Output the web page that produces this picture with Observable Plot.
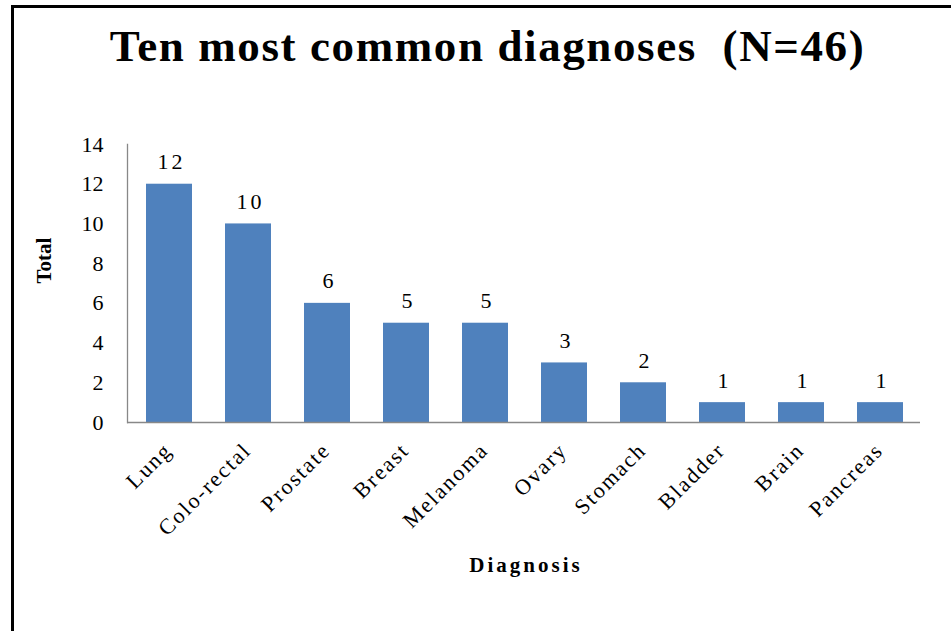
<!DOCTYPE html>
<html>
<head>
<meta charset="utf-8">
<script src="https://cdn.jsdelivr.net/npm/d3@7"></script>
<script src="https://cdn.jsdelivr.net/npm/@observablehq/plot@0.6"></script>
<style>
  html, body { margin: 0; padding: 0; background: #fff; }
  #wrap { position: relative; width: 951px; height: 631px; overflow: hidden; background: #fff; }
  #border { position: absolute; left: 11px; top: 5px; width: 960px; height: 700px;
            border-left: 3px solid #000; border-top: 3px solid #000; box-sizing: border-box; }
  #title { position: absolute; left: 0; top: 20px; width: 975px; text-align: center;
           font-family: "Liberation Serif", "Times New Roman", serif; font-weight: bold;
           font-size: 45px; letter-spacing: 1.6px; color: #000; white-space: pre; }
  #chart { position: absolute; left: 0; top: 100px; }
  .vlab text { letter-spacing: 3px; }
  .xlab { letter-spacing: 3px; }
</style>
</head>
<body>
<div id="wrap">
  <div id="border"></div>
  <div id="title">Ten most common diagnoses  (N=46)</div>
  <div id="chart"></div>
</div>
<script>
const categories = ["Lung", "Colo-rectal", "Prostate", "Breast", "Melanoma", "Ovary", "Stomach", "Bladder", "Brain", "Pancreas"];
const totals = [12, 10, 6, 5, 5, 3, 2, 1, 1, 1];
const yTicks = [0, 2, 4, 6, 8, 10, 12, 14];

const data = categories.map((c, i) => ({diagnosis: c, total: totals[i]}));
const font = "Liberation Serif, Times New Roman, serif";

const plot = Plot.plot({
  width: 951,
  height: 531,
  marginLeft: 127,
  marginRight: 31,
  marginTop: 44,
  marginBottom: 209,
  style: {fontFamily: font, fontSize: "22px", color: "#000", background: "transparent"},
  x: {domain: categories, paddingInner: 0.42, paddingOuter: 0.21, label: null},
  y: {domain: [0, 14], label: null},
  marks: [
    Plot.barY(data, {x: "diagnosis", y: "total", fill: "#4F81BD", dx: 1}),
    Plot.text(data, {x: "diagnosis", y: "total", text: d => String(d.total), dy: -22, dx: 3, fontSize: 22, fill: "#000", className: "vlab"}),
    Plot.ruleY([0], {stroke: "#888", strokeWidth: 1.3}),
    Plot.frame({anchor: "left", stroke: "#888", strokeWidth: 1.3}),
    Plot.axisY({ticks: yTicks, tickSize: 0, tickPadding: 24, label: null, fontSize: 22}),
    Plot.axisX({tickSize: 0, tickRotate: -45, tickPadding: 24, label: null, fontSize: 22, dx: 0}),
    Plot.text(["Total"], {frameAnchor: "left", dx: -83, rotate: -90, fontWeight: "bold", fontSize: 21}),
    Plot.text(["Diagnosis"], {frameAnchor: "bottom", dy: 149, dx: 2, fontWeight: "bold", fontSize: 21, className: "xlab"})
  ]
});
d3.select(plot).selectAll("g[aria-label='x-axis tick label'] text").style("letter-spacing", "2px");
document.getElementById("chart").appendChild(plot);
</script>
</body>
</html>
